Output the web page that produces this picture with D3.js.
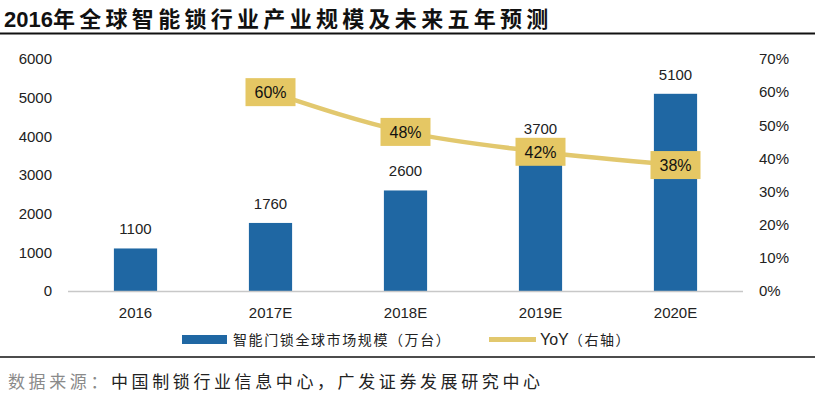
<!DOCTYPE html>
<html>
<head>
<meta charset="utf-8">
<script src="https://d3js.org/d3.v7.min.js"></script>
<style>
  body { margin: 0; background: #fff; }
  text { font-family: "Liberation Sans", Arial, "Noto Sans CJK SC", sans-serif; }
</style>
</head>
<body>
<div id="chart"></div>
<script>
    const width = 815;
    const height = 395;

    // data
    const categories = ["2016", "2017E", "2018E", "2019E", "2020E"];
    const marketSize = [1100, 1760, 2600, 3700, 5100];
    const yoy = [null, 0.60, 0.48, 0.42, 0.38];
    const leftTicks = [0, 1000, 2000, 3000, 4000, 5000, 6000];
    const rightTicks = [0, 0.1, 0.2, 0.3, 0.4, 0.5, 0.6, 0.7];

    const barColor = "#1f67a3";
    const lineColor = "#e2c86e";
    const boxColor = "#e5c764";

    const svg = d3.select("#chart")
        .append("svg")
        .attr("width", width)
        .attr("height", height);

    // title + rules
    const title = svg.append("text")
        .attr("x", 4)
        .attr("y", 27)
        .attr("font-size", 22)
        .attr("font-weight", "bold")
        .attr("fill", "#111");
    title.append("tspan").text("2016");
    title.append("tspan").attr("letter-spacing", 4.3).text("年全球智能锁行业产业规模及未来五年预测");

    svg.append("line")
        .attr("x1", 0).attr("x2", width)
        .attr("y1", 33.5).attr("y2", 33.5)
        .attr("stroke", "#111").attr("stroke-width", 2);

    svg.append("line")
        .attr("x1", 0).attr("x2", width)
        .attr("y1", 357).attr("y2", 357)
        .attr("stroke", "#111").attr("stroke-width", 1.5);

    // scales
    const x = d3.scaleBand()
        .domain(categories)
        .range([68, 743])
        .paddingInner(0.68)
        .paddingOuter(0.34);

    const yLeft = d3.scaleLinear().domain([0, 6000]).range([291, 59]);
    const yRight = d3.scaleLinear().domain([0, 0.7]).range([291, 59]);

    // axes
    const leftAxis = d3.axisLeft(yLeft).tickValues(leftTicks).tickSize(0).tickPadding(0)
        .tickFormat(d3.format("d"));
    svg.append("g")
        .attr("transform", "translate(52,0)")
        .call(leftAxis)
        .call(g => g.select(".domain").remove())
        .selectAll("text")
        .attr("font-size", 15)
        .attr("fill", "#222");

    const rightAxis = d3.axisRight(yRight).tickValues(rightTicks).tickSize(0).tickPadding(0)
        .tickFormat(d3.format(".0%"));
    svg.append("g")
        .attr("transform", "translate(759,0)")
        .call(rightAxis)
        .call(g => g.select(".domain").remove())
        .selectAll("text")
        .attr("font-size", 15)
        .attr("fill", "#222");

    // bars
    svg.selectAll("rect.bar")
        .data(categories)
        .enter()
        .append("rect")
        .attr("class", "bar")
        .attr("x", d => x(d))
        .attr("width", x.bandwidth())
        .attr("y", (d, i) => yLeft(marketSize[i]))
        .attr("height", (d, i) => yLeft(0) - yLeft(marketSize[i]))
        .attr("fill", barColor);

    // baseline
    svg.append("line")
        .attr("x1", 68).attr("x2", 743)
        .attr("y1", 291.5).attr("y2", 291.5)
        .attr("stroke", "#c8c8c8").attr("stroke-width", 1.5);

    // x labels
    svg.selectAll("text.xlab")
        .data(categories)
        .enter()
        .append("text")
        .attr("class", "xlab")
        .attr("x", d => x(d) + x.bandwidth() / 2)
        .attr("y", 318)
        .attr("text-anchor", "middle")
        .attr("font-size", 15)
        .attr("fill", "#222")
        .text(d => d);

    // bar value labels
    svg.selectAll("text.val")
        .data(categories)
        .enter()
        .append("text")
        .attr("class", "val")
        .attr("x", d => x(d) + x.bandwidth() / 2)
        .attr("y", (d, i) => yLeft(marketSize[i]) - 14)
        .attr("text-anchor", "middle")
        .attr("font-size", 15)
        .attr("fill", "#222")
        .text((d, i) => marketSize[i]);

    // YoY line
    const yoyPoints = categories
        .map((c, i) => ({c, v: yoy[i]}))
        .filter(d => d.v !== null);

    const line = d3.line()
        .x(d => x(d.c) + x.bandwidth() / 2)
        .y(d => yRight(d.v))
        .curve(d3.curveMonotoneX);

    svg.append("path")
        .datum(yoyPoints)
        .attr("d", line)
        .attr("fill", "none")
        .attr("stroke", lineColor)
        .attr("stroke-width", 4.5);

    // YoY label boxes
    const boxW = 50, boxH = 28;
    const boxes = svg.selectAll("g.box")
        .data(yoyPoints)
        .enter()
        .append("g")
        .attr("class", "box")
        .attr("transform", d => `translate(${x(d.c) + x.bandwidth() / 2},${yRight(d.v)})`);

    boxes.append("rect")
        .attr("x", -boxW / 2)
        .attr("y", -boxH / 2)
        .attr("width", boxW)
        .attr("height", boxH)
        .attr("fill", boxColor);

    boxes.append("text")
        .attr("text-anchor", "middle")
        .attr("dy", "0.36em")
        .attr("font-size", 16)
        .attr("fill", "#111")
        .text(d => Math.round(d.v * 100) + "%");

    // legend
    svg.append("rect")
        .attr("x", 182).attr("y", 335)
        .attr("width", 45).attr("height", 9)
        .attr("fill", barColor);
    svg.append("text")
        .attr("x", 233).attr("y", 345)
        .attr("font-size", 14)
        .attr("letter-spacing", 1.6)
        .attr("fill", "#222")
        .text("智能门锁全球市场规模（万台）");

    svg.append("line")
        .attr("x1", 489).attr("x2", 536)
        .attr("y1", 339.5).attr("y2", 339.5)
        .attr("stroke", lineColor).attr("stroke-width", 5);
    const yl = svg.append("text")
        .attr("x", 540).attr("y", 345)
        .attr("font-size", 14)
        .attr("fill", "#222");
    yl.append("tspan").attr("font-size", 16).text("YoY");
    yl.append("tspan").attr("letter-spacing", 1.6).text("（右轴）");

    // source
    const src = svg.append("text")
        .attr("x", 8).attr("y", 388)
        .attr("font-size", 17)
        .attr("letter-spacing", 3.6);
    src.append("tspan").attr("fill", "#8a8a8a").text("数据来源：");
    src.append("tspan").attr("fill", "#222").text("中国制锁行业信息中心，广发证券发展研究中心");
</script>
</body>
</html>
